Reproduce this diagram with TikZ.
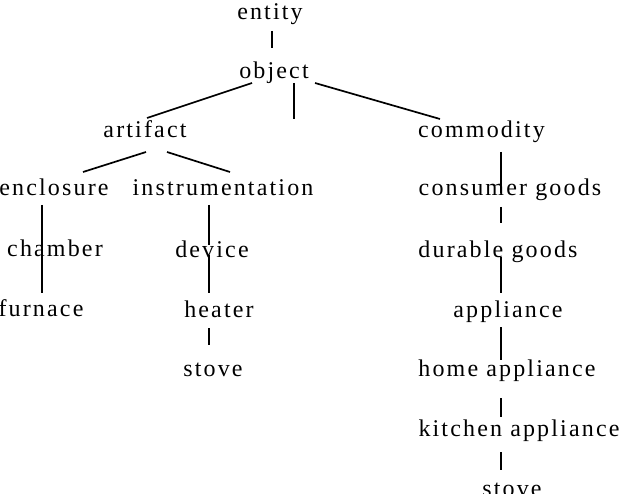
\documentclass[tikz,border=0pt]{standalone}
\usepackage{fontspec}
\setmainfont{Liberation Serif}[LetterSpace=9]
\usetikzlibrary{calc}
\begin{document}
\begin{tikzpicture}[x=1pt,y=-1pt,
  lbl/.style={inner sep=0pt,anchor=base,font=\fontsize{24}{28}\selectfont},
  edge/.style={line width=1.7pt}]
\useasboundingbox (0,0) rectangle (620,494);
\node[lbl] (entity) at (270,20) {entity};
\node[lbl] (object) at (274,79) {object};
\node[lbl] (artifact) at (145,138) {artifact};
\node[lbl] (commodity) at (481.5,138) {commodity};
\node[lbl] (enclosure) at (54,196) {enclosure};
\node[lbl] (instr) at (223,196) {instrumentation};
\node[lbl] (consumer) at (510,196) {consumer goods};
\node[lbl] (chamber) at (55,256) {chamber};
\node[lbl] (device) at (212,257) {device};
\node[lbl] (durable) at (498,257) {durable goods};
\node[lbl] (furnace) at (41,316) {furnace};
\node[lbl] (heater) at (219,317) {heater};
\node[lbl] (appliance) at (508,317) {appliance};
\node[lbl] (stoveL) at (213,376) {stove};
\node[lbl] (home) at (507,376) {home appliance};
\node[lbl] (kitchen) at (519,436) {kitchen appliance};
\node[lbl] (stoveR) at (512,496) {stove};
\coordinate (objmid) at (294,119);
\draw[edge] ($(entity.base)+(2,11)$) -- ($(object.base)+(-2,-31)$);
\draw[edge] ($(object.base)+(-22,4)$) -- ($(artifact.base)+(2,-20)$);
\draw[edge] ($(object.base)+(20,4)$) -- (objmid);
\draw[edge] ($(object.base)+(41,4)$) -- ($(commodity.base)+(-41.5,-19)$);
\draw[edge] ($(artifact.base)+(1,14)$) -- ($(enclosure.base)+(29,-24)$);
\draw[edge] ($(artifact.base)+(22,14)$) -- ($(instr.base)+(7,-24)$);
\draw[edge] ($(commodity.base)+(19.5,14)$) -- ($(consumer.base)+(-9,-3)$);
\draw[edge] ($(consumer.base)+(-9,11)$) -- ($(durable.base)+(3,-34)$);
\draw[edge] ($(durable.base)+(3,0)$) -- ($(appliance.base)+(-7,-24)$);
\draw[edge] ($(appliance.base)+(-7,10)$) -- ($(home.base)+(-6,-16)$);
\draw[edge] ($(home.base)+(-6,22)$) -- ($(kitchen.base)+(-18,-19)$);
\draw[edge] ($(kitchen.base)+(-18,16)$) -- ($(stoveR.base)+(-11,-26)$);
\draw[edge] ($(enclosure.base)+(-12,9)$) -- ($(chamber.base)+(-13,-6)$);
\draw[edge] ($(chamber.base)+(-13,-6)$) -- ($(furnace.base)+(1,-23)$);
\draw[edge] ($(instr.base)+(-14,9)$) -- ($(device.base)+(-3,-12)$);
\draw[edge] ($(device.base)+(-3,-2)$) -- ($(heater.base)+(-10,-24)$);
\draw[edge] ($(heater.base)+(-10,11)$) -- ($(stoveL.base)+(-4,-31)$);
\end{tikzpicture}
\end{document}
